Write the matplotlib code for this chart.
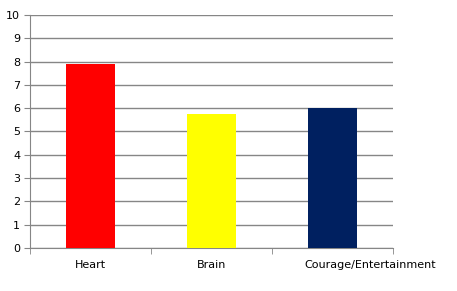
import matplotlib.pyplot as plt
from matplotlib.ticker import FixedLocator
from matplotlib.transforms import ScaledTranslation

categories = ["Heart", "Brain", "Courage/Entertainment"]
values = [7.9, 5.75, 6.0]
colors = ["#ff0000", "#ffff00", "#002060"]

fig = plt.figure(figsize=(4.57, 2.91), dpi=100)
ax = fig.add_axes([0.0656, 0.1478, 0.7943, 0.8007])

x = range(len(categories))
ax.bar(x, values, width=0.4, color=colors, zorder=3)

ax.set_xlim(-0.5, 2.5)
ax.set_ylim(0, 10)
ax.set_yticks(range(0, 11))
ax.grid(True, axis="y", color="#868686", linewidth=1, zorder=0)

ax.set_xticks(list(x))
ax.set_xticklabels(categories, fontsize=8)
ax.tick_params(axis="x", length=0, pad=9)
ax.xaxis.set_minor_locator(FixedLocator([-0.5, 0.5, 1.5, 2.5]))
ax.tick_params(axis="x", which="minor", length=4, color="#868686")
ax.tick_params(axis="y", length=4, color="#868686", labelsize=8, pad=3)

# long last label sits shifted to the right, like in the original
last = ax.get_xticklabels()[-1]
last.set_transform(last.get_transform() + ScaledTranslation(0.38, 0, fig.dpi_scale_trans))

for side in ["top", "right"]:
    ax.spines[side].set_visible(False)
for side in ["left", "bottom"]:
    ax.spines[side].set_color("#868686")

fig.savefig("out.png", dpi=100)
